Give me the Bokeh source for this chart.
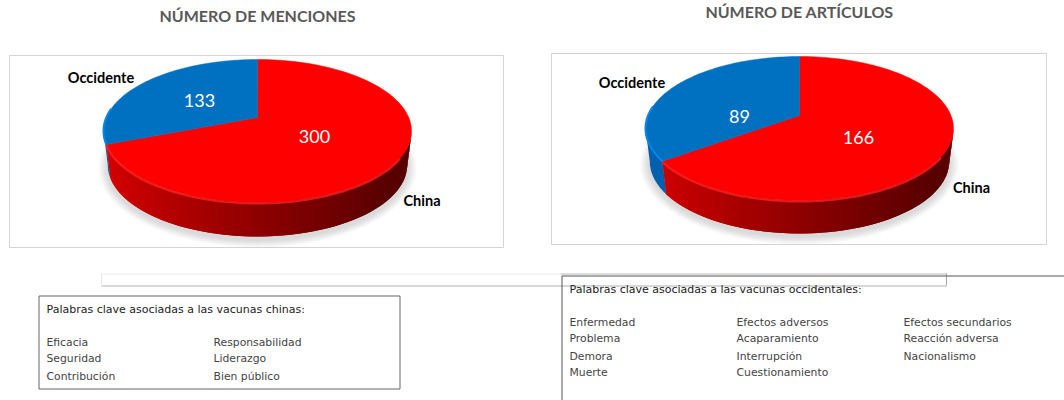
import numpy as np
from bokeh.plotting import figure
from bokeh.models import Range1d
from bokeh.core.properties import value
from bokeh.embed import file_html
from bokeh.resources import INLINE

# --- data ---
categories = ["China", "Occidente"]
menciones = [300, 133]
articulos = [166, 89]
titles = ["NÚMERO DE MENCIONES", "NÚMERO DE ARTÍCULOS"]
box_left_title = "Palabras clave asociadas a las vacunas chinas:"
box_left_col1 = ["Eficacia", "Seguridad", "Contribución"]
box_left_col2 = ["Responsabilidad", "Liderazgo", "Bien público"]
box_right_title = "Palabras clave asociadas a las vacunas occidentales:"
box_right_col1 = ["Enfermedad", "Problema", "Demora", "Muerte"]
box_right_col2 = ["Efectos adversos", "Acaparamiento", "Interrupción", "Cuestionamiento"]
box_right_col3 = ["Efectos secundarios", "Reacción adversa", "Nacionalismo"]

W, H = 1064, 400
p = figure(width=W, height=H, output_backend="svg", toolbar_location=None,
           x_range=Range1d(0, W), y_range=Range1d(H, 0),
           x_axis_type=None, y_axis_type=None, min_border=0,
           background_fill_color="white", border_fill_color="white")
p.grid.visible = False
p.outline_line_color = None

K = 0.84  # perspective of the tilted disc


def proj(theta):
    """true pie angle (clockwise from 12 o'clock) to ellipse parameter"""
    t = np.asarray(theta, dtype=float)
    half = np.tan(t / 2)
    out = 2 * np.arctan(K * half)
    return np.where(t > np.pi, out + 2 * np.pi, out)


def mix(c0, c1, f):
    return "#%02x%02x%02x" % tuple(int(round(a + (b - a) * f)) for a, b in zip(c0, c1))


def pie(vals, cx, cy, rx, ry, apex_y, depth, frame):
    x0, y0, x1, y1 = frame
    p.quad(left=[x0], right=[x1], top=[y0], bottom=[y1], fill_color="white",
           line_color="#d4d4d4", line_width=1)
    # soft shadow
    for i in range(10):
        grow = 10 - i
        p.ellipse(x=[cx], y=[cy + depth + 3], width=[2 * (rx * 0.97 + grow)],
                  height=[2 * (ry + grow * 0.8)], fill_color="#808080", fill_alpha=0.035, line_color=None)
    split = 2 * np.pi * vals[0] / sum(vals)
    phi_s = float(proj(split))
    ell = lambda a, sx=1.0, dy=0.0: (cx + sx * rx * np.sin(a), cy - ry * np.cos(a) + dy)
    # wall: one blue piece beyond the split, red strips up to it,
    # each strip overlapping the next so that no seams show
    edges = np.linspace(np.pi / 2, phi_s, 90)
    step = edges[1] - edges[0]
    xs, ys, cols = [], [], []
    blue = np.linspace(phi_s, 3 * np.pi / 2, 30)
    bt = ell(blue)
    bb = ell(blue, 0.972, depth)
    xs.append(np.r_[bt[0], bb[0][::-1]])
    ys.append(np.r_[bt[1], bb[1][::-1]])
    cols.append("#0060b0")
    for a in edges[:-1]:
        e = min(a + 2 * step, phi_s)
        seg = np.array([a, e])
        xt, yt = ell(seg)
        xb, yb = ell(seg, 0.972, depth)
        f = (xt[0] - (cx - rx)) / (2 * rx)
        xs.append(np.r_[xt, xb[::-1]])
        ys.append(np.r_[yt, yb[::-1]])
        cols.append(mix((214, 0, 0), (88, 0, 0), min(1, f ** 0.9 * 1.05)))
    p.patches([list(v) for v in xs], [list(v) for v in ys], fill_color=cols, line_color=None)
    # top face wedges
    a_red = np.linspace(0, phi_s, 160)
    a_blue = np.linspace(phi_s, 2 * np.pi, 80)
    rx_, ry_ = ell(a_red)
    bx_, by_ = ell(a_blue)
    p.patch(np.r_[cx, rx_], np.r_[apex_y, ry_], fill_color="#ff0000", line_color="#ff0000", line_width=0.5)
    p.patch(np.r_[cx, bx_], np.r_[apex_y, by_], fill_color="#0070c0", line_color="#0070c0", line_width=0.5)
    # bevels on the rim
    rim = a_red[a_red > np.pi * 0.62]
    rrx, rry = ell(rim)
    p.line(rrx, rry + 1, line_color="#ff2a2a", line_width=2, line_alpha=0.7)
    ra = np.linspace(phi_s, 2 * np.pi * 0.80, 30)
    brx, bry = ell(ra)
    p.line(brx, bry, line_color="#0a86e6", line_width=2)


FONT = value("Lato")
BOX = value("DejaVu Sans")


def label(x, y, t, size, color, style="normal", align="center", font=FONT):
    p.text(x=[x], y=[y], text=[t], text_font=font, text_font_size=size, text_color=color,
           text_font_style=style, text_align=align, text_baseline="middle")


pie(menciones, 257, 130.5, 154, 71.5, 117, 34, (9, 55, 503, 247))
pie(articulos, 799, 128, 154, 72, 115, 33, (551, 53, 1046, 244))

label(257, 15, titles[0], "16px", "#595959", "bold")
label(799, 11, titles[1], "16px", "#595959", "bold")
label(100.5, 77, categories[1], "14.5px", "#000000", "bold")
label(421.5, 200, categories[0], "14.5px", "#000000", "bold")
label(631.5, 82, categories[1], "14.5px", "#000000", "bold")
label(971, 187, categories[0], "14.5px", "#000000", "bold")
label(199, 100, str(menciones[1]), "18px", "#ffffff")
label(314, 136, str(menciones[0]), "18px", "#ffffff")
label(739, 116, str(articulos[1]), "18px", "#ffffff")
label(858, 137, str(articulos[0]), "18px", "#ffffff")

# empty rectangle behind the boxes
p.multi_line([[101, 946], [101, 560], [560, 946], [946, 946], [101, 101]],
             [[285.5, 285.5], [273.5, 273.5], [273.5, 273.5], [273, 285], [273, 285]],
             line_color=["#b0b0b0", "#ececec", "#b8b8b8", "#a8a8a8", "#e8e8e8"], line_width=1)
# keyword boxes
p.quad(left=[38.5], right=[399.5], top=[295.5], bottom=[388.5], fill_color=None, line_color="#666666", line_width=1)
p.multi_line([[561.5, 1064], [561.5, 561.5]], [[275.5, 275.5], [275.5, 400]], line_color="#555555", line_width=1)

label(46, 309, box_left_title, "11px", "#222222", align="left", font=BOX)
for y, t in zip([342, 358, 376], box_left_col1):
    label(46, y, t, "10.8px", "#444444", align="left", font=BOX)
for y, t in zip([342, 358, 376], box_left_col2):
    label(213, y, t, "10.8px", "#444444", align="left", font=BOX)
label(569, 289, box_right_title, "11px", "#222222", align="left", font=BOX)
rows = [322, 338, 356, 372]
for col_x, col in zip([569, 736, 903], [box_right_col1, box_right_col2, box_right_col3]):
    for y, t in zip(rows, col):
        label(col_x, y, t, "10.8px", "#444444", align="left", font=BOX)

open("out.html", "w").write(file_html(p, INLINE))
